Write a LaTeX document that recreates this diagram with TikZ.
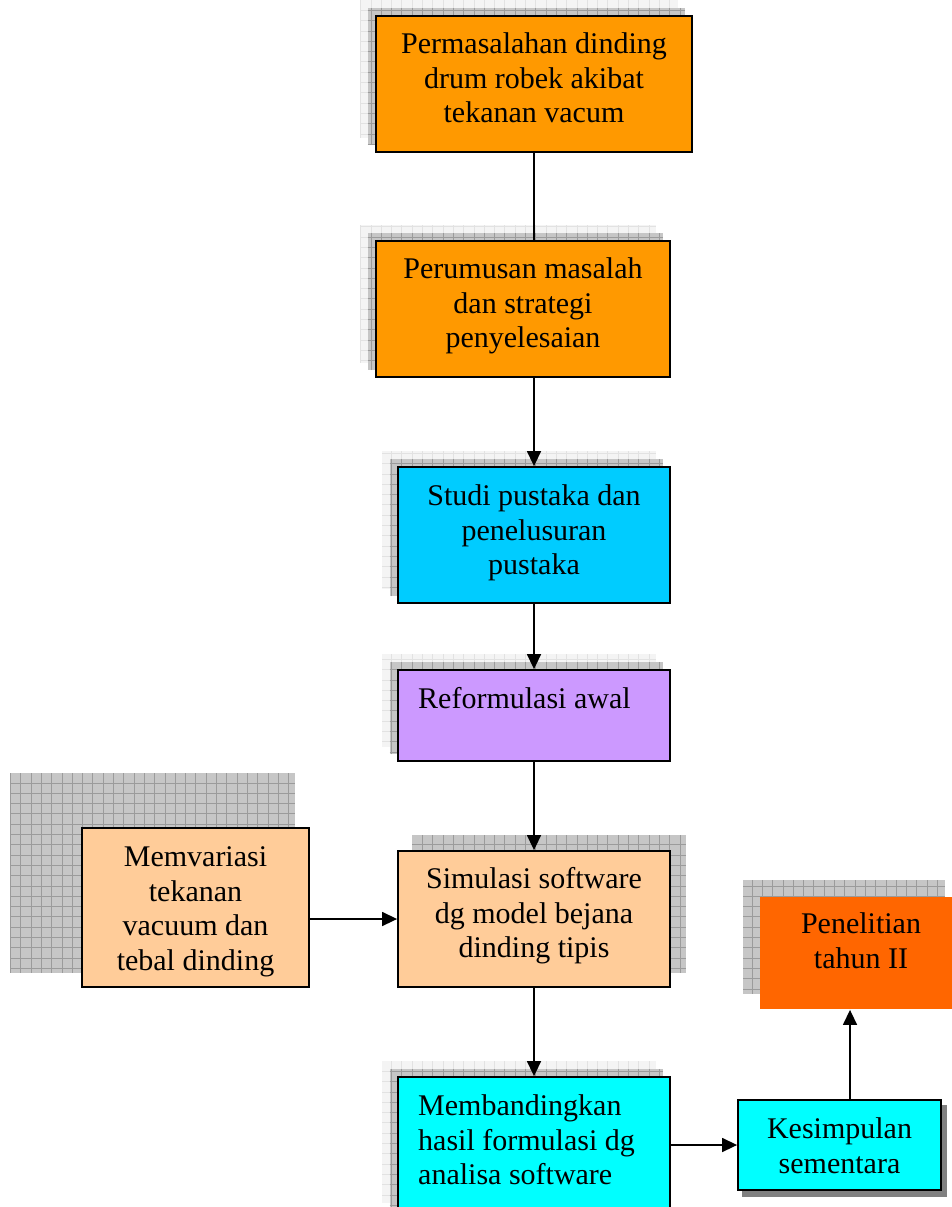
\documentclass[tikz,border=0pt]{standalone}
\usepackage{fontspec}
\setmainfont{Liberation Serif}
\usetikzlibrary{arrows.meta,calc}
\pgfdeclarelayer{bg}
\pgfsetlayers{bg,main}
\definecolor{cOrange}{RGB}{255,153,0}
\definecolor{cSky}{RGB}{0,204,255}
\definecolor{cLilac}{RGB}{204,153,255}
\definecolor{cPeach}{RGB}{255,204,153}
\definecolor{cRed}{RGB}{255,102,0}
\definecolor{cAqua}{RGB}{0,255,255}
\definecolor{shDark}{RGB}{198,198,198}
\definecolor{shDarkGrid}{RGB}{155,155,155}
\definecolor{shLight}{RGB}{244,244,244}
\definecolor{shLightGrid}{RGB}{226,226,226}
\definecolor{shSolid}{RGB}{128,128,128}
\newcommand{\gshadow}[4]{%
  \fill[#1] #3 rectangle #4;
  \draw[#2, line width=0.6pt, step=10.3pt] #3 grid #4;}
\begin{document}
\begin{tikzpicture}[x=1pt,y=-1pt,
  box/.style={draw=black, line width=1.8pt, rectangle, inner sep=0pt},
  txt/.style={font=\fontsize{30}{34.5}\selectfont, align=center, inner sep=0pt, anchor=north},
  link/.style={line width=1.5pt, draw=black},
  arr/.style={link, -{Triangle[length=15pt,width=14pt]}}]
\useasboundingbox (0,0) rectangle (951,1207);

% boxes
\node[box, fill=cOrange, minimum width=316pt, minimum height=136pt] (b1) at (534,84) {};
\node[box, fill=cOrange, minimum width=294pt, minimum height=136pt] (b2) at (523,309) {};
\node[box, fill=cSky,    minimum width=272pt, minimum height=136pt] (b3) at (534,535) {};
\node[box, fill=cLilac,  minimum width=272pt, minimum height=91pt]  (b4) at (534,715.5) {};
\node[box, fill=cPeach,  minimum width=227pt, minimum height=159pt] (b5) at (195.5,907.5) {};
\node[box, fill=cPeach,  minimum width=272pt, minimum height=136pt] (b6) at (534,919) {};
\node[box, draw=none, fill=cRed, minimum width=200pt, minimum height=112pt] (b7) at (860,953) {};
\node[box, fill=cAqua,   minimum width=272pt, minimum height=140pt] (b8) at (534,1147) {};
\node[box, fill=cAqua,   minimum width=203pt, minimum height=90pt]  (b9) at (839.5,1145) {};

% texts
\node[txt] (t1) at (534,32.5) {Permasalahan dinding\\drum robek akibat\\tekanan vacum};
\node[txt] (t2) at (523,257.5) {Perumusan masalah\\dan strategi\\penyelesaian};
\node[txt] (t3) at (534,484.5) {Studi pustaka dan\\penelusuran\\pustaka};
\node[txt, anchor=north west] (t4) at (418,687.5) {Reformulasi awal};
\node[txt] (t5) at (195.5,846.5) {Memvariasi\\tekanan\\vacuum dan\\tebal dinding};
\node[txt] (t6) at (534,867.5) {Simulasi software\\dg model bejana\\dinding tipis};
\node[txt] (t7) at (861,912.5) {Penelitian\\tahun II};
\node[txt, anchor=north west, align=left] (t8) at (418,1094.5) {Membandingkan\\hasil formulasi dg\\analisa software};
\node[txt] (t9) at (839.5,1117.5) {Kesimpulan\\sementara};

% connectors
\draw[link] (b1.south) -- (b1.south |- b2.north);
\draw[arr] (b3.north |- b2.south) -- (b3.north);
\draw[arr] (b3.south) -- (b4.north);
\draw[arr] (b4.south) -- (b6.north);
\draw[arr] (b5.east |- b6.west) -- (b6.west);
\draw[arr] (b6.south) -- (b8.north);
\draw[arr] (b8.east |- b9.west) -- (b9.west);
\coordinate (up) at ($(b9.north)+(10.5,0)$);
\draw[arr] (up) -- (up |- b7.south);

% shadows
\begin{pgfonlayer}{bg}
  \foreach \b in {b1,b2,b3,b4,b8}{
    \gshadow{shLight}{shLightGrid}{($(\b.north west)+(-15,-15)$)}{($(\b.south east)+(-15,-15)$)}
    \gshadow{shDark}{shDarkGrid}{($(\b.north west)+(-7.5,-7.5)$)}{($(\b.south east)+(-7.5,-7.5)$)}
  }
  \gshadow{shDark}{shDarkGrid}{($(b5.north west)+(-71,-54)$)}{($(b5.south east)+(-15,-15)$)}
  \gshadow{shDark}{shDarkGrid}{($(b6.north west)+(15,-15)$)}{($(b6.south east)+(15,-15)$)}
  \gshadow{shDark}{shDarkGrid}{($(b7.north west)+(-16,-16)$)}{($(b7.south east)+(-16,-16)$)}
  \fill[shSolid] ($(b9.north west)+(5,6)$) rectangle ($(b9.south east)+(5,6)$);
\end{pgfonlayer}
\end{tikzpicture}
\end{document}
